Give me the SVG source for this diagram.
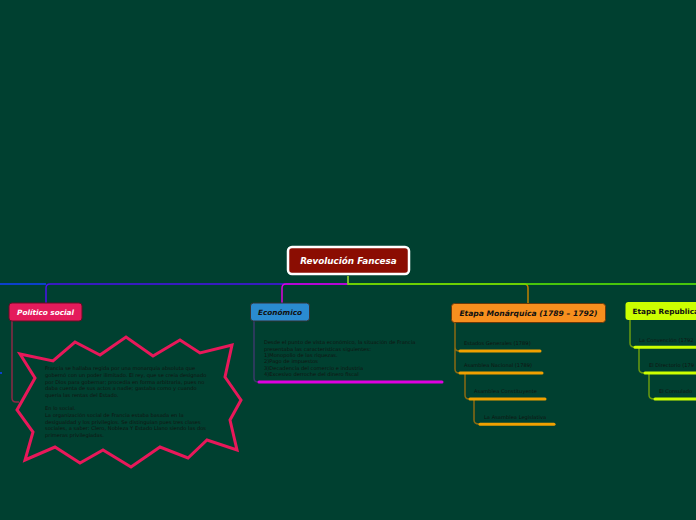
<svg xmlns="http://www.w3.org/2000/svg" width="696" height="520" viewBox="0 0 696 520">
<style>
.conn{fill:none;stroke-width:1.5}
.lbl{font-family:"DejaVu Sans",Verdana,sans-serif;font-weight:bold;font-style:italic}
.small{font-family:"DejaVu Sans",Verdana,sans-serif;font-size:5.15px;fill:#101410}
.ul{fill:none;stroke-width:3;stroke-linecap:round}
</style>
<rect width="696" height="520" fill="#004030"/>
<g id="connectors">
  <path class="conn" stroke="#1040ff" d="M0,284 H46"/>
  <path class="conn" stroke="#4a10ee" d="M348,276 V284 H50 Q46,284 46,288 V303"/>
  <path class="conn" stroke="#c08000" d="M348,276 V284 H524 Q528,284 528,288 V303"/>
  <path class="conn" stroke="#dd00dd" d="M348,276 V284 H286 Q282,284 282,288 V303"/>
  <path class="conn" stroke="#60f000" d="M348,276 V284 H700"/>
  <path class="conn" stroke="#1040ff" d="M0,373 H2"/>
  <path class="conn" stroke="#8c2846" d="M12,321 V398 Q12,402 16,402 H19"/>
  <path class="conn" stroke="#3a3a6a" d="M254,321 V378 Q254,382 258,382"/>
  <path class="conn" stroke="#8a6a12" d="M455,322 V347 Q455,351 459,351 M455,347 V369 Q455,373 459,373"/>
  <path class="conn" stroke="#8a6a12" d="M465,373 V395 Q465,399 469,399"/>
  <path class="conn" stroke="#8a6a12" d="M474,399 V420 Q474,424 479,424"/>
  <path class="conn" stroke="#6a9a10" d="M630,320 V343 Q630,347 634,347"/>
  <path class="conn" stroke="#6a9a10" d="M639,347 V369 Q639,373 644,373"/>
  <path class="conn" stroke="#6a9a10" d="M649,373 V395 Q649,399 654,399"/>
</g>
<g id="root">
  <rect x="288" y="247" width="121" height="27" rx="4" fill="#8b0d02" stroke="#ffffff" stroke-width="2.5"/>
  <text class="lbl" x="348.5" y="264" font-size="8.8" fill="#ffffff" text-anchor="middle">Revolución Fancesa</text>
</g>
<g id="politico">
  <rect x="9" y="303" width="73" height="18" rx="3" fill="#e41b5b" stroke="#6a0a25" stroke-width="1"/>
  <text class="lbl" x="45.5" y="315" font-size="7.3" fill="#ffffff" text-anchor="middle">Político social</text>
</g>
<g id="politico-note">
  <polygon points="20,354 53,361 75,342 100,355 126,337 153,356 180,340 200,353 232,345 225,377 241,400 230,420 237,450 207,440 188,458 160,447 131,467 103,450 80,463 55,447 25,460 33,432 17,410 35,378" fill="none" stroke="#e8185a" stroke-width="3" stroke-linejoin="miter"/>
  <text class="small">
    <tspan x="45" y="370.3">Francia se hallaba regida por una monarquía absoluta que</tspan>
    <tspan x="45" y="377">gobernó con un poder ilimitado. El rey, que se creía designado</tspan>
    <tspan x="45" y="383.7">por Dios para gobernar; procedía en forma arbitraria, pues no</tspan>
    <tspan x="45" y="390.3">daba cuenta de sus actos a nadie; gastaba como y cuando</tspan>
    <tspan x="45" y="397">quería las rentas del Estado.</tspan>
    <tspan x="45" y="410.3">En lo social.</tspan>
    <tspan x="45" y="417">La organización social de Francia estaba basada en la</tspan>
    <tspan x="45" y="423.7">desigualdad y los privilegios. Se distinguían pues tres clases</tspan>
    <tspan x="45" y="430.3">sociales, a saber: Clero, Nobleza Y Estado Llano siendo las dos</tspan>
    <tspan x="45" y="437">primeras privilegiadas.</tspan>
  </text>
</g>
<g id="economico">
  <rect x="250.5" y="303" width="59" height="18" rx="3" fill="#2a8bd0" stroke="#333333" stroke-width="1"/>
  <text class="lbl" x="280" y="315" font-size="7.3" fill="#111111" text-anchor="middle">Económico</text>
</g>
<g id="economico-note">
  <text class="small">
    <tspan x="264" y="344.3">Desde el punto de vista económico, la situación de Francia</tspan>
    <tspan x="264" y="350.5">presentaba las características siguientes:</tspan>
    <tspan x="264" y="356.8">1)Monopolio de las riquezas.</tspan>
    <tspan x="264" y="363">2)Pago de impuestos</tspan>
    <tspan x="264" y="370">3)Decadencia del comercio e industria</tspan>
    <tspan x="264" y="376.3">4)Excesivo derroche del dinero fiscal</tspan>
  </text>
  <path class="ul" stroke="#e000e0" d="M259,382 H442"/>
</g>
<g id="monarquica">
  <rect x="451.5" y="303.5" width="154" height="19" rx="3" fill="#f78f1e" stroke="#6b3a0a" stroke-width="1"/>
  <text class="lbl" x="528.5" y="316" font-size="7.6" fill="#111111" text-anchor="middle">Etapa Monárquica (1789 – 1792)</text>
</g>
<g id="estados">
  <text class="small" x="464" y="345.3">Estados Generales (1789)</text>
  <path class="ul" stroke="#f0a000" d="M460,351 H540"/>
</g>
<g id="asamblea-nacional">
  <text class="small" x="464" y="367.3">Asamblea Nacional (1789)</text>
  <path class="ul" stroke="#f0a000" d="M460,373 H542"/>
</g>
<g id="constituyente">
  <text class="small" x="474" y="393.3">Asamblea Constituyente</text>
  <path class="ul" stroke="#f0a000" d="M470,399 H545"/>
</g>
<g id="legislativa">
  <text class="small" x="484" y="418.7">La Asamblea Legislativa</text>
  <path class="ul" stroke="#f0a000" d="M480,424.3 H554"/>
</g>
<g id="republica">
  <rect x="625.5" y="302" width="90" height="18" rx="3" fill="#ccff00"/>
  <text x="632.5" y="314" font-family="DejaVu Sans, Verdana, sans-serif" font-weight="bold" font-size="7.3" fill="#111111">Etapa Republica</text>
</g>
<g id="convencion">
  <text class="small" x="639" y="341.7">La Convención (1792</text>
  <path class="ul" stroke="#ccff00" d="M635,347.3 H700"/>
</g>
<g id="directorio">
  <text class="small" x="649" y="367.3">El Directorio (179</text>
  <path class="ul" stroke="#ccff00" d="M645,373 H700"/>
</g>
<g id="consulado">
  <text class="small" x="659" y="393.3">El Consulado</text>
  <path class="ul" stroke="#ccff00" d="M655,399 H700"/>
</g>
</svg>
